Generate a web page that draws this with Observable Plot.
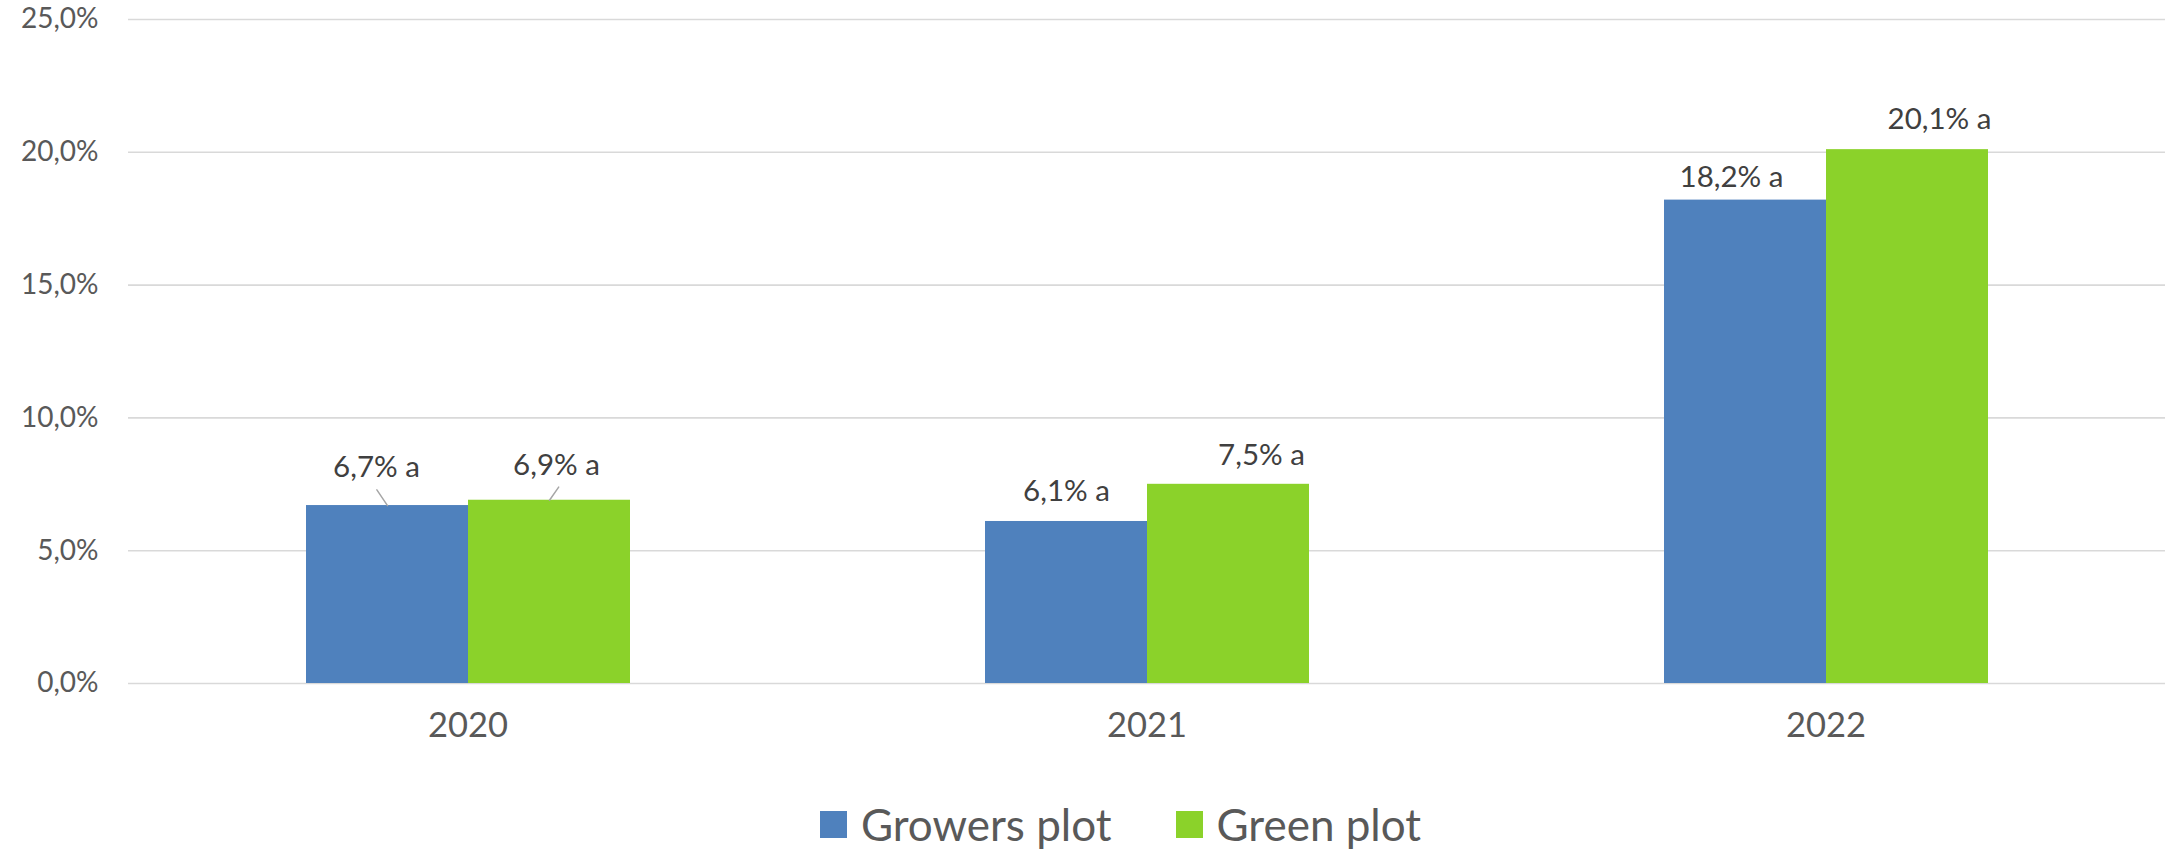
<!DOCTYPE html>
<html>
<head>
<meta charset="utf-8">
<script src="https://cdn.jsdelivr.net/npm/d3@7"></script>
<script src="https://cdn.jsdelivr.net/npm/@observablehq/plot@0.6"></script>
<style>
  html, body { margin: 0; padding: 0; background: #ffffff; }
  #chart { width: 2177px; }
  .legend { display: flex; justify-content: center; align-items: center; height: 68px; padding-left: 64px; box-sizing: border-box; width: 2177px;
            font-family: Lato, "Open Sans", sans-serif; font-size: 44px; color: #595959; }
  .legend .item { display: flex; align-items: center; }
  .legend .item + .item { margin-left: 64px; }
  .legend .sw { width: 27px; height: 27px; margin-right: 14px; }
</style>
</head>
<body>
<div id="chart"></div>
<script>
// ---- data ----
const years = ["2020", "2021", "2022"];
const series = ["Growers plot", "Green plot"];
const growers = [6.7, 6.1, 18.2];   // %
const green = [6.9, 7.5, 20.1];     // %
const letters = ["a", "a", "a", "a", "a", "a"]; // significance letters, table order
const yTicks = [0, 5, 10, 15, 20, 25];
const colors = ["#4F81BD", "#8BD22A"];

// label placement tweaks (pixels), same order as table rows
const labelDx = [-11, 7, 0, 33, -14, 32];
const labelDy = [-38, -35, -30, -29, -23, -30];
// leader lines (length px, angle deg) for the moved labels; 0 = none
const leaderLen = [19, 16, 0, 0, 0, 0];
const leaderAngle = [-34, 35, 0, 0, 0, 0];

const fmt = v => v.toFixed(1).replace(".", ",") + "%";

const rows = [];
years.forEach((yr, i) => {
  rows.push({year: yr, series: series[0], value: growers[i], letter: letters[i]});
  rows.push({year: yr, series: series[1], value: green[i], letter: letters[3 + i]});
});

const font = "Lato, 'Open Sans', sans-serif";

const labelMarks = rows.map((d, i) => Plot.text([d], {
  fx: "year", x: "series", y: "value",
  text: r => fmt(r.value) + " " + r.letter,
  dx: labelDx[i], dy: labelDy[i],
  fontSize: 29.5, fill: "#404040", fontFamily: font
}));

const line = {draw(context, l) { context.moveTo(0, 0); context.lineTo(0, -l); }};
const leaderMarks = rows.map((d, i) => leaderLen[i] > 0 ? Plot.vector([d], {
  fx: "year", x: "series", y: "value",
  length: leaderLen[i], rotate: leaderAngle[i], anchor: "start",
  shape: line, stroke: "#a6a6a6", strokeWidth: 1.5
}) : null).filter(Boolean);

const chart = Plot.plot({
  width: 2177,
  height: 790,
  marginLeft: 127,
  marginRight: 11,
  marginTop: 19,
  marginBottom: 107,
  style: {fontFamily: font, background: "#ffffff"},
  fx: {domain: years, padding: 0, label: null},
  x: {domain: series, paddingInner: 0, paddingOuter: 1.09, axis: null},
  y: {domain: [0, 25], label: null},
  length: {type: "identity"},
  color: {domain: series, range: colors},
  marks: [
    Plot.ruleY(yTicks, {stroke: "#d9d9d9", strokeWidth: 1.6}),
    Plot.barY(rows, {fx: "year", x: "series", y: "value", fill: "series"}),
    ...leaderMarks,
    ...labelMarks,
    Plot.axisY({ticks: yTicks, tickFormat: fmt, tickSize: 0, tickPadding: 30, fontSize: 28, fill: "#595959", label: null}),
    Plot.axisFx({anchor: "bottom", tickSize: 0, tickPadding: 29, fontSize: 34.5, fill: "#595959", label: null})
  ]
});

document.getElementById("chart").appendChild(chart);

// legend (HTML, below the SVG)
const legend = document.createElement("div");
legend.className = "legend";
series.forEach((s, i) => {
  const item = document.createElement("div");
  item.className = "item";
  const sw = document.createElement("span");
  sw.className = "sw";
  sw.style.background = colors[i];
  const label = document.createElement("span");
  label.textContent = s;
  item.appendChild(sw);
  item.appendChild(label);
  legend.appendChild(item);
});
document.getElementById("chart").appendChild(legend);
</script>
</body>
</html>
